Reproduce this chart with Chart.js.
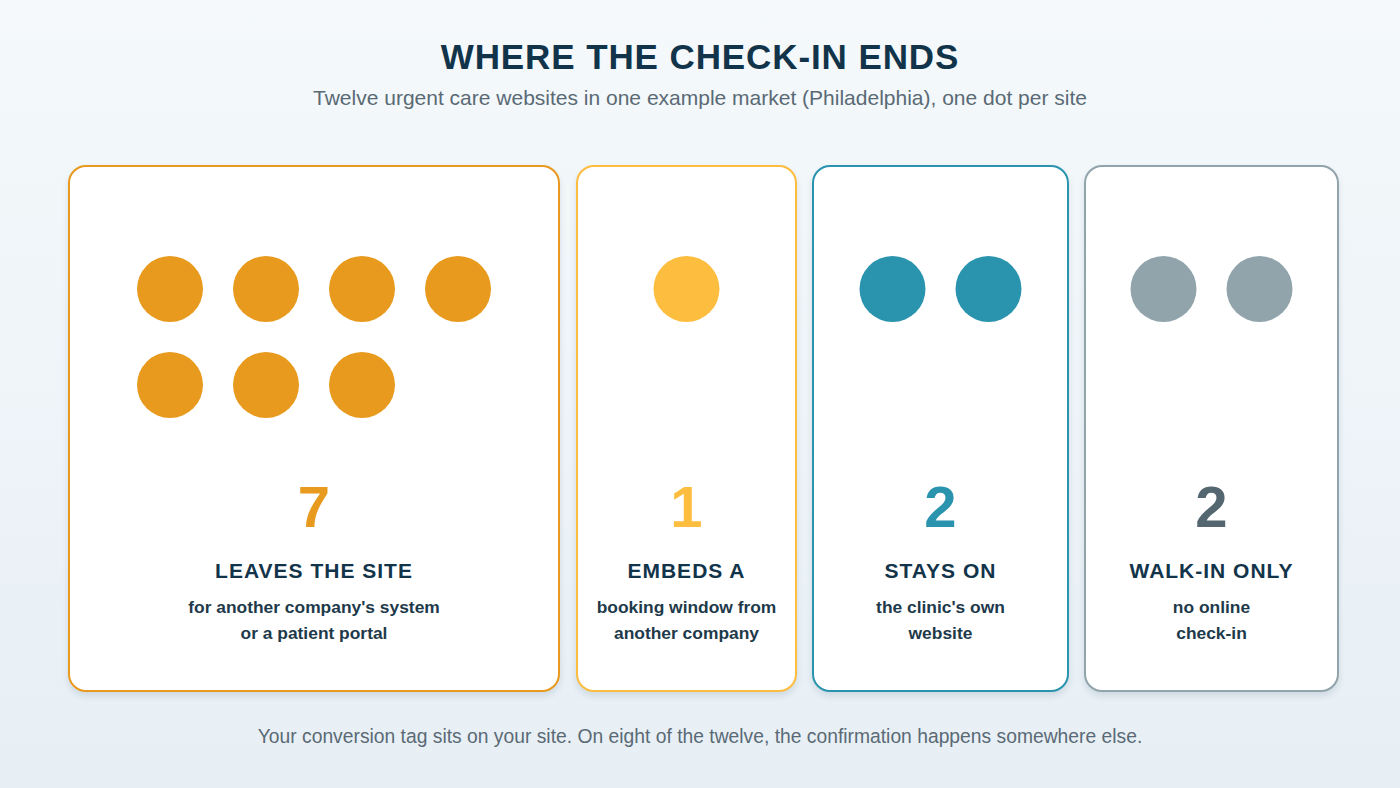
<!DOCTYPE html>
<html>
<head>
<meta charset="utf-8">
<script src="https://cdn.jsdelivr.net/npm/chart.js@4.4.1/dist/chart.umd.min.js"></script>
<style>
  html, body { margin: 0; padding: 0; }
  body {
    width: 1400px; height: 788px; overflow: hidden; position: relative;
    background: linear-gradient(180deg, #f5f9fb 0%, #e7eff5 100%);
    font-family: "Liberation Sans", Arial, Helvetica, sans-serif;
  }
  .abs { position: absolute; left: 0; width: 1400px; text-align: center; white-space: nowrap; }
  #title { top: 39px; font-size: 35px; line-height: 35px; font-weight: 700; color: #12344a; letter-spacing: 0.9px; }
  #subtitle { top: 88px; font-size: 21px; line-height: 20px; color: #5a6a75; }
  #footer { top: 728px; font-size: 19.3px; line-height: 18.5px; color: #5a6a75; }
  .card {
    position: absolute; top: 165px; height: 527px; box-sizing: border-box;
    border: 2px solid #ccc; border-radius: 18px; background: #ffffff;
    box-shadow: 0 4px 6px rgba(40, 70, 100, 0.13);
  }
  .txt { position: absolute; text-align: center; white-space: nowrap; }
  .num { font-size: 58px; line-height: 58px; font-weight: 700; top: 478px; }
  .lab { font-size: 21px; line-height: 21px; font-weight: 700; top: 560px; color: #12344a; letter-spacing: 1px; }
  .desc { font-size: 17.4px; line-height: 26px; font-weight: 700; top: 594px; color: #1e3a4a; }
  canvas.dots { position: absolute; top: 241px; }
</style>
</head>
<body>
<div id="title" class="abs">WHERE THE CHECK-IN ENDS</div>
<div id="subtitle" class="abs">Twelve urgent care websites in one example market (Philadelphia), one dot per site</div>
<div id="footer" class="abs">Your conversion tag sits on your site. On eight of the twelve, the confirmation happens somewhere else.</div>
<div id="stage"></div>
<script>
// ---- data ----
const categories = ['LEAVES THE SITE', 'EMBEDS A', 'STAYS ON', 'WALK-IN ONLY'];
const siteCounts = [7, 1, 2, 2];
const descriptions = [
  ["for another company's system", "or a patient portal"],
  ["booking window from", "another company"],
  ["the clinic's own", "website"],
  ["no online", "check-in"]
];

// ---- styles / layout ----
const dotColors = ['#e89a1e', '#fdbd3f', '#2a94ae', '#91a4ab'];
const borderColors = ['#e89a1e', '#fdbd3f', '#2a94ae', '#91a4ab'];
const numberColors = ['#e89a1e', '#fdbd3f', '#2a94ae', '#546770'];
const cardLefts = [68, 576, 812, 1084];
const cardWidths = [492, 221, 257, 255];
const perRow = 4, spacing = 96, dotRadius = 33, canvasH = 192;

const stage = document.getElementById('stage');
categories.forEach((cat, i) => {
  const L = cardLefts[i], W = cardWidths[i];
  const card = document.createElement('div');
  card.className = 'card';
  card.style.left = L + 'px';
  card.style.width = W + 'px';
  card.style.borderColor = borderColors[i];
  stage.appendChild(card);

  const mk = (cls, html, color) => {
    const d = document.createElement('div');
    d.className = 'txt ' + cls;
    d.style.left = L + 'px';
    d.style.width = W + 'px';
    if (color) d.style.color = color;
    d.innerHTML = html;
    stage.appendChild(d);
  };
  mk('num', String(siteCounts[i]), numberColors[i]);
  mk('lab', cat);
  mk('desc', descriptions[i].join('<br>'));

  const cv = document.createElement('canvas');
  cv.className = 'dots';
  cv.width = W; cv.height = canvasH;
  cv.style.left = L + 'px';
  cv.style.width = W + 'px'; cv.style.height = canvasH + 'px';
  stage.appendChild(cv);

  const n = siteCounts[i];
  const cols = Math.min(n, perRow);
  const pts = [];
  for (let k = 0; k < n; k++) {
    pts.push({ x: (k % perRow) - (cols - 1) / 2, y: Math.floor(k / perRow) });
  }
  const half = W / 2 / spacing;
  new Chart(cv, {
    type: 'scatter',
    data: { datasets: [{ data: pts, backgroundColor: dotColors[i], borderWidth: 0,
      pointRadius: dotRadius, pointHoverRadius: dotRadius, clip: false }] },
    options: {
      responsive: false, animation: false, devicePixelRatio: 1,
      layout: { padding: 0, autoPadding: false },
      plugins: { legend: { display: false }, tooltip: { enabled: false } },
      events: [],
      scales: {
        x: { type: 'linear', display: false, min: -half, max: half },
        y: { type: 'linear', display: false, reverse: true, min: -0.5, max: 1.5 }
      }
    }
  });
});
</script>
</body>
</html>
